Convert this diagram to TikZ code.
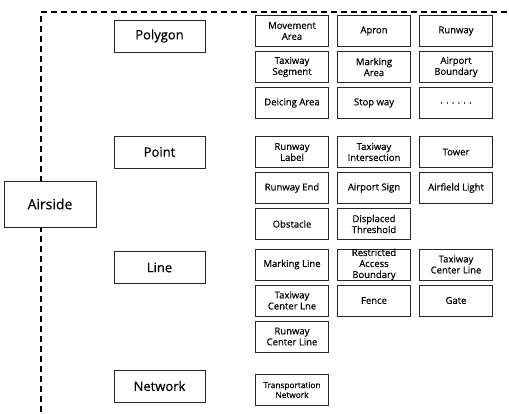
\documentclass[tikz,border=0pt]{standalone}
\usepackage{fontspec}
\setmainfont{Open Sans}[FakeBold=0.5]
\begin{document}
\begin{tikzpicture}[x=1pt,y=-1pt,
  catbox/.style={draw=black!85,line width=0.9pt,minimum width=91pt,minimum height=32pt,inner sep=0pt,font=\fontsize{13}{15}\selectfont},
  rootbox/.style={draw=black!85,line width=0.9pt,fill=white,minimum width=92pt,minimum height=46pt,inner sep=0pt,font=\fontsize{14}{16}\selectfont},
  cell/.style={draw=black!85,line width=0.9pt,minimum width=73pt,minimum height=31pt,inner sep=0pt,align=center,font=\fontsize{9.5}{11}\selectfont},
  celltext/.style={inner sep=0pt,align=center,font=\fontsize{9.5}{11}\selectfont},
  frame/.style={line width=1.1pt,dash pattern=on 6pt off 4pt}]
\useasboundingbox (0,0) rectangle (509,414);

% dashed frame around the airside categories
\coordinate (ftop) at (41,12);
\coordinate (fright) at (507,12);
\coordinate (fbot) at (41,414);
\draw[frame] (fright) -- (ftop) -- (fbot);

% root
\node[rootbox] (air) at (50,204) {Airside};

% categories
\node[catbox] (poly) at (159.5,36) {Polygon};
\node[catbox] (point) at (159.5,152) {Point};
\node[catbox] (line) at (159.5,267.5) {Line};
\node[catbox] (net) at (159.5,386) {Network};

% column centres: 292, 374, 456
% polygon features
\node[cell] (pa1) at (292,31) {Movement\\Area};
\node[cell] (pa2) at (374,31) {Apron};
\node[cell] (pa3) at (456,31) {Runway};
\node[cell] (pb1) at (292,67) {Taxiway\\Segment};
\node[cell] (pb2) at (374,67) {Marking\\Area};
\node[cell] (pb3) at (456,67) {Airport\\Boundary};
\node[cell] (pc1) at (292,103) {Deicing Area};
\node[cell] (pc2) at (374,103) {Stop way};
\node[cell] (pc3) at (456,103) {.\hspace{3.2pt}.\hspace{3.2pt}.\hspace{3.2pt}.\hspace{3.2pt}.\hspace{3.2pt}.};

% point features
\node[cell] (qa1) at (292,152) {Runway\\Label};
\node[cell] (qa2) at (374,152) {Taxiway\\Intersection};
\node[cell] (qa3) at (456,152) {Tower};
\node[cell] (qb1) at (292,188) {Runway End};
\node[cell] (qb2) at (374,188) {Airport Sign};
\node[cell] (qb3) at (456,188) {Airfield Light};
\node[cell] (qc1) at (292,224) {Obstacle};
\node[cell] (qc2) at (374,224) {Displaced\\Threshold};

% line features
\node[cell] (la1) at (292,264.5) {Marking Line};
\node[cell] (la2) at (374,264.5) {};
\node[celltext] at (la2) {Restricted\\Access\\Boundary};
\node[cell] (la3) at (456,264.5) {Taxiway\\Center Line};
\node[cell] (lb1) at (292,300.5) {Taxiway\\Center Lne};
\node[cell] (lb2) at (374,300.5) {Fence};
\node[cell] (lb3) at (456,300.5) {Gate};
\node[cell] (lc1) at (292,336.5) {Runway\\Center Line};

% network features
\node[cell,font=\fontsize{8.3}{9.8}\selectfont] (na1) at (292,390) {Transportation\\Network};
\end{tikzpicture}
\end{document}
